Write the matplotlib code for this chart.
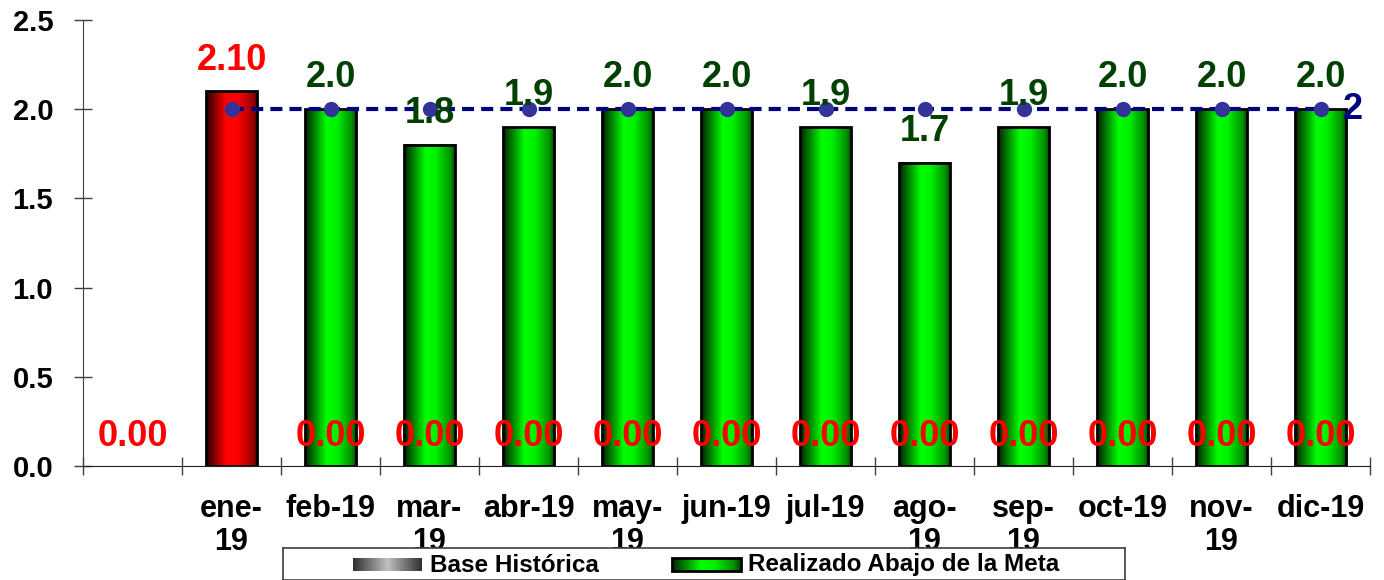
import numpy as np
import matplotlib
matplotlib.use("Agg")
import matplotlib.pyplot as plt
from matplotlib.colors import LinearSegmentedColormap
from matplotlib.patches import Rectangle

plt.rcParams['font.family'] = ['Liberation Sans', 'DejaVu Sans']
plt.rcParams['font.weight'] = 'bold'

# ---------------- data ----------------
categories = ["", "ene-\n19", "feb-19", "mar-\n19", "abr-19", "may-\n19", "jun-19",
              "jul-19", "ago-\n19", "sep-\n19", "oct-19", "nov-\n19", "dic-19"]
realizado = [np.nan, 2.10, 2.0, 1.8, 1.9, 2.0, 2.0, 1.9, 1.7, 1.9, 2.0, 2.0, 2.0]
sobre_meta = [False, True, False, False, False, False, False, False, False, False, False, False, False]
base_historica = [0, 0, 0, 0, 0, 0, 0, 0, 0, 0, 0, 0, 0]
meta = [np.nan, 2, 2, 2, 2, 2, 2, 2, 2, 2, 2, 2, 2]
y_ticks = [0.0, 0.5, 1.0, 1.5, 2.0, 2.5]

W, H = 1384, 580
fig = plt.figure(figsize=(W / 100, H / 100), dpi=100)
ax = fig.add_axes([83 / W, 1 - 466 / H, (1370 - 83) / W, (466 - 20) / H])

red_cmap = LinearSegmentedColormap.from_list(
    "red", [(0, "#200000"), (0.38, "#ff0000"), (0.62, "#ff0000"), (0.9, "#9a0000"), (1.0, "#500000")])
green_cmap = LinearSegmentedColormap.from_list(
    "green", [(0, "#002000"), (0.42, "#00ff00"), (0.62, "#00f000"), (0.9, "#009000"), (1.0, "#004000")])
gray_cmap = LinearSegmentedColormap.from_list(
    "gray", [(0, "#303030"), (0.5, "#c0c0c0"), (1.0, "#303030")])

x = np.arange(len(categories))
vals = np.array(realizado, dtype=float)
valid = ~np.isnan(vals)
bars = ax.bar(x[valid], vals[valid], width=0.52, facecolor="none",
              edgecolor="black", linewidth=2, zorder=3)
grad = np.linspace(0, 1, 256).reshape(1, -1)
for p, i in zip(bars.patches, x[valid]):
    cmap = red_cmap if sobre_meta[i] else green_cmap
    ax.imshow(grad, cmap=cmap, aspect="auto", zorder=2,
              extent=[p.get_x(), p.get_x() + p.get_width(), 0, p.get_height()])

# meta line
ax.plot(x, meta, color="#000080", linestyle=(0, (2.9, 1.7)), linewidth=3,
        marker="o", markersize=10, markerfacecolor="#333399",
        markeredgecolor="#333399", zorder=5)
last = np.where(~np.isnan(np.array(meta, dtype=float)))[0][-1]
ax.annotate(f"{meta[last]:g}", (x[last], meta[last]), xytext=(16, 0),
            textcoords="offset points", ha="left", va="center",
            fontsize=26, fontweight="bold", color="#000080", zorder=6)

# value labels
for i, v in enumerate(vals):
    if np.isnan(v):
        continue
    if sobre_meta[i]:
        txt, col = f"{v:.2f}", "#ff0000"
    else:
        txt, col = f"{v:.1f}", "#004000"
    ax.annotate(txt, (x[i], v), xytext=(0, 22.5), textcoords="offset points",
                ha="center", va="center", fontsize=26, fontweight="bold",
                color=col, zorder=6)

# base historica labels (hidden behind the red bar in the original)
for i, b in enumerate(base_historica):
    if sobre_meta[i]:
        continue
    ax.annotate(f"{b:.2f}", (x[i], b), xytext=(0, 21.5), textcoords="offset points",
                ha="center", va="center", fontsize=26, fontweight="bold",
                color="#ff0000", zorder=7)

ax.set_xlim(-0.5, len(categories) - 0.5)
ax.set_ylim(0, 2.5)
ax.set_yticks(y_ticks)
ax.set_yticklabels([f"{t:.1f}" for t in y_ticks])
ax.set_xticks(x)
ax.set_xticklabels(categories, linespacing=1.12)
ax.set_xticks(np.arange(-0.5, len(categories)), minor=True)
ax.tick_params(axis="x", which="major", length=0, pad=20, labelsize=22)
ax.tick_params(axis="x", which="minor", direction="inout", length=13,
               width=1, color="#404040")
ax.tick_params(axis="y", direction="inout", length=13, width=1, color="#404040",
               labelsize=21, pad=15)
for lab in ax.get_xticklabels() + ax.get_yticklabels():
    lab.set_fontweight("bold")
for s in ["top", "right"]:
    ax.spines[s].set_visible(False)
ax.spines["left"].set_color("#404040")
ax.spines["bottom"].set_color("#202020")

# legend
lax = fig.add_axes([283 / W, 0, (1125 - 283) / W, 32 / H], zorder=10)
lax.set_facecolor("white")
lax.set_xticks([])
lax.set_yticks([])
for s in lax.spines.values():
    s.set_color("#404040")
    s.set_linewidth(1.2)
lax.imshow(grad, cmap=gray_cmap, aspect="auto", extent=[353, 422, 571, 558])
lax.text(430, 565, "Base Histórica", ha="left", va="center", fontsize=17.5,
         fontweight="bold")
lax.imshow(grad, cmap=green_cmap, aspect="auto", extent=[672, 741, 571, 558])
lax.add_patch(Rectangle((672, 558), 69, 13, facecolor="none", edgecolor="black",
                        linewidth=2))
lax.text(748, 565, "Realizado Abajo de la Meta", ha="left", va="center",
         fontsize=17.5, fontweight="bold")
lax.set_xlim(283, 1125)
lax.set_ylim(580, 548)

fig.savefig("out.png", dpi=100)
